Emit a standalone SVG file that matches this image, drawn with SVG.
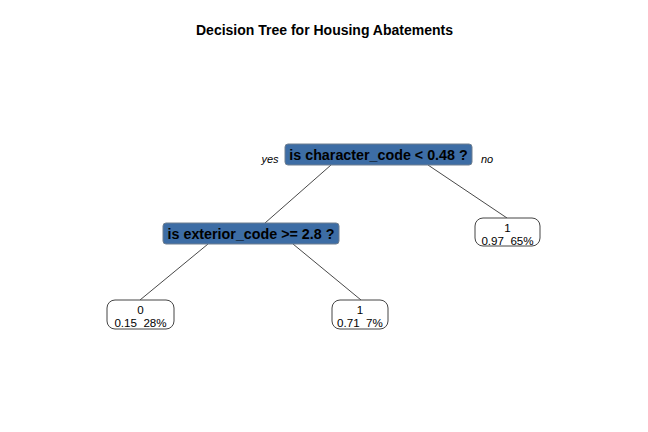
<svg xmlns="http://www.w3.org/2000/svg" width="648" height="432" viewBox="0 0 648 432">
<style>
.split{fill:#3D6DA5;stroke:#6f7f90;stroke-width:1}
.leaf{fill:#ffffff;stroke:#444;stroke-width:1}
.stxt{font-family:"Liberation Sans",Arial,sans-serif;font-weight:bold;font-size:14.3px;fill:#000;text-anchor:middle}
.ltxt{font-family:"Liberation Sans",Arial,sans-serif;font-size:11.6px;fill:#000;text-anchor:middle;white-space:pre}
.lab{font-family:"Liberation Sans",Arial,sans-serif;font-style:italic;font-size:11px;fill:#000;text-anchor:middle}
.edge{stroke:#333;stroke-width:0.9;fill:none}
</style>
<rect width="648" height="432" fill="#fff"/>
<text x="324.5" y="35" font-family="Liberation Sans,Arial,sans-serif" font-weight="bold" font-size="14" text-anchor="middle">Decision Tree for Housing Abatements</text>
<g id="connectors">
<line class="edge" x1="331" y1="165" x2="265" y2="223"/>
<line class="edge" x1="428" y1="165" x2="507" y2="218"/>
<line class="edge" x1="208" y1="244" x2="140" y2="300"/>
<line class="edge" x1="293" y1="244" x2="361" y2="300"/>
</g>
<g id="root">
<rect class="split" x="285" y="144" width="187" height="21" rx="3"/>
<text class="stxt" x="378.5" y="160">is character_code &lt; 0.48 ?</text>
<text class="lab" x="270" y="163">yes</text>
<text class="lab" x="487" y="163">no</text>
</g>
<g id="exterior">
<rect class="split" x="163" y="223" width="176" height="21" rx="3"/>
<text class="stxt" x="251" y="239">is exterior_code &gt;= 2.8 ?</text>
</g>
<g id="leaf-right">
<rect class="leaf" x="475" y="218" width="65" height="28" rx="8"/>
<text class="ltxt" x="507.5" y="231.5">1</text>
<text class="ltxt" x="507.5" y="245">0.97  65%</text>
</g>
<g id="leaf-0">
<rect class="leaf" x="107" y="300" width="67" height="29" rx="8"/>
<text class="ltxt" x="140.5" y="313.5">0</text>
<text class="ltxt" x="140.5" y="327">0.15  28%</text>
</g>
<g id="leaf-1">
<rect class="leaf" x="332" y="300" width="56" height="29" rx="8"/>
<text class="ltxt" x="360" y="313.5">1</text>
<text class="ltxt" x="360" y="327">0.71  7%</text>
</g>
</svg>
